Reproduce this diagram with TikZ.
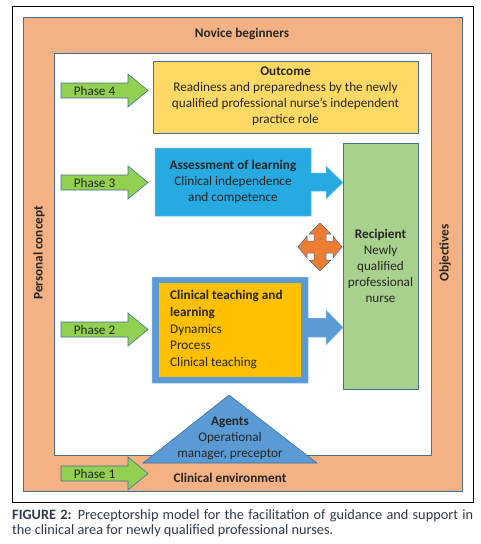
\documentclass[tikz,border=0pt]{standalone}
\usepackage{fontspec}
\setmainfont{Carlito}
\definecolor{bgorange}{HTML}{F4B183}
\definecolor{outyellow}{HTML}{FFD966}
\definecolor{assblue}{HTML}{27A9E1}
\definecolor{recgreen}{HTML}{A9D18E}
\definecolor{phgreen}{HTML}{92D050}
\definecolor{ctblue}{HTML}{5B9BD5}
\definecolor{ctgold}{HTML}{FFC000}
\definecolor{crossor}{HTML}{ED7D31}
\definecolor{edgeblue}{HTML}{41719C}
\definecolor{txt}{HTML}{262626}
\definecolor{captxt}{HTML}{2F3B4C}
\tikzset{
  lbl/.style={font=\fontsize{13.2}{16}\selectfont, text=txt, inner sep=0pt, align=center},
  blbl/.style={lbl, font=\fontsize{13.2}{16}\selectfont\bfseries},
  phasearrow/.style={fill=phgreen, draw=edgeblue, line width=0.6pt, line join=miter},
  boxedge/.style={draw=edgeblue, line width=0.6pt}
}
\newcommand\PhaseArrow[3]{%
  \draw[phasearrow] (61,{#2-7.5}) -- (128,{#2-7.5}) -- (128,{#2-16.5}) -- (148,#2)
    -- (128,{#2+16.5}) -- (128,{#2+7.5}) -- (61,{#2+7.5}) -- cycle;
  \node[lbl] (#1) at (94.5,#2) {#3};
}
\begin{document}
\begin{tikzpicture}[x=1pt,y=-1pt]
\useasboundingbox (0,0) rectangle (481,544);
\fill[white] (0,0) rectangle (481,544);
% frame
\draw[black, line width=0.9pt] (12,6) rectangle (473,502);
% orange background and white inner
\fill[bgorange, draw=edgeblue, line width=0.5pt] (23,17) rectangle (462,491);
\fill[white, draw=edgeblue, line width=0.5pt] (54,53) rectangle (431,455);
\node[blbl] (novice) at (242,34) {Novice beginners};
\node[blbl, rotate=90] (personal) at (39,253) {Personal concept};
\node[blbl, rotate=90] (objectives) at (445,253) {Objectives};
% outcome
\draw[boxedge, fill=outyellow] (153,61) rectangle (418,133);
\node[lbl] (outcome) at (285.5,96.5) {\textbf{Outcome}\\Readiness and preparedness by the newly\\qualified professional nurse’s independent\\practice role};
% assessment callout
\fill[assblue, draw=assblue!70!white, line width=0.5pt] (155,148) -- (311,148) -- (311,173) -- (326,173) -- (326,166) -- (343,182.5)
  -- (326,199) -- (326,191) -- (311,191) -- (311,216) -- (155,216) -- cycle;
\node[lbl] (assess) at (233,182) {\textbf{Assessment of learning}\\Clinical independence\\and competence};
% recipient
\draw[boxedge, fill=recgreen] (343,143) rectangle (418,389);
\node[lbl] (recipient) at (380.5,266) {\textbf{Recipient}\\Newly\\qualified\\professional\\nurse};
% cross arrow
\begin{scope}[shift={(320,247)}]
\draw[fill=crossor, draw=edgeblue, line width=0.5pt, line join=miter]
  (0,-24) -- (11,-13) -- (6,-13) -- (6,-6) -- (13,-6) -- (13,-11) -- (22,0) -- (13,11) -- (13,6) -- (6,6) -- (6,13) -- (11,13)
  -- (0,24) -- (-11,13) -- (-6,13) -- (-6,6) -- (-13,6) -- (-13,11) -- (-22,0) -- (-13,-11) -- (-13,-6) -- (-6,-6) -- (-6,-13) -- (-11,-13) -- cycle;
\end{scope}
\coordinate (crosscentre) at (320,247);
% clinical teaching callout
\fill[ctblue, draw=ctblue!70!white, line width=0.5pt] (152,277) -- (308,277) -- (308,318) -- (326,318) -- (326,310) -- (343,327.5)
  -- (326,345) -- (326,337) -- (308,337) -- (308,383) -- (152,383) -- cycle;
\fill[ctgold] (159,283) rectangle (301,377);
\node[lbl, align=left, anchor=west, font=\fontsize{13.2}{16.7}\selectfont] (teaching) at (170,329.5) {\textbf{Clinical teaching and}\\\textbf{learning}\\Dynamics\\Process\\Clinical teaching};
% agents triangle
\draw[fill=ctblue, draw=edgeblue, line width=0.6pt, line join=miter] (229,395) -- (317,463) -- (143,463) -- cycle;
\node[lbl] (agents) at (230,438) {\textbf{Agents}\\Operational\\manager, preceptor};
\node[blbl] (environment) at (230,477.5) {Clinical environment};
% phase arrows
\PhaseArrow{phase4}{90.5}{Phase 4}
\PhaseArrow{phase3}{182.5}{Phase 3}
\PhaseArrow{phase2}{329.5}{Phase 2}
\PhaseArrow{phase1}{473.5}{Phase 1}
% caption
\node[anchor=north west, inner sep=0pt, text width=461pt, align=justify, text=captxt, font=\fontsize{14.3}{15.5}\selectfont] (caption) at (12,509)
 {\textbf{FIGURE 2:} Preceptorship model for the facilitation of guidance and support in\linebreak the clinical area for newly qualified professional nurses.};
\end{tikzpicture}
\end{document}
